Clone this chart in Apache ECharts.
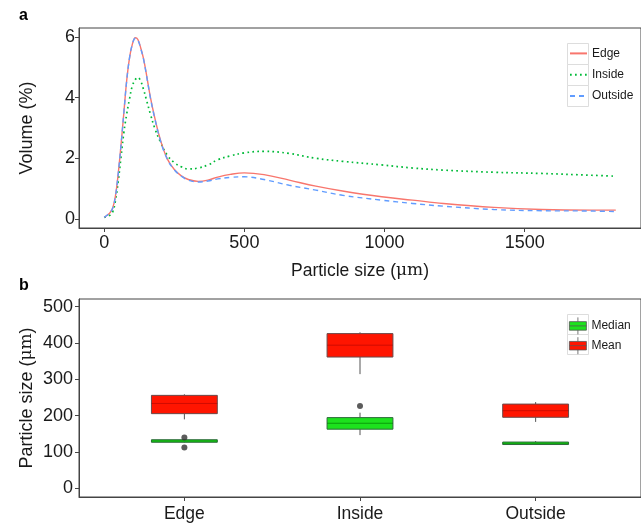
<!DOCTYPE html>
<html>
<head>
<meta charset="utf-8">
<script src="https://cdn.jsdelivr.net/npm/echarts@6/dist/echarts.min.js"></script>
<style>
  html, body { margin: 0; padding: 0; background: #fff; }
  #chart { width: 641px; height: 523px; }
</style>
</head>
<body>
<div id="chart"></div>
<script>
// Panel a: particle size distributions (volume %)
const sizes = [0, 10, 20, 30, 40, 50, 60, 70, 80, 90, 100, 111, 120, 130, 140, 150, 165, 180, 200, 225, 250, 275, 300, 335, 370, 405, 450, 500, 570, 660, 755, 850, 990, 1100, 1210, 1390, 1560, 1740, 1825];
const edgeVol = [0.05, 0.12, 0.2, 0.35, 0.75, 1.5, 2.45, 3.5, 4.55, 5.3, 5.75, 5.98, 5.92, 5.65, 5.3, 4.8, 4.0, 3.35, 2.62, 1.98, 1.63, 1.42, 1.3, 1.24, 1.28, 1.38, 1.47, 1.52, 1.46, 1.28, 1.08, 0.92, 0.73, 0.62, 0.51, 0.38, 0.31, 0.29, 0.29];
const insideVol = [0.05, 0.08, 0.12, 0.22, 0.6, 1.25, 2.05, 2.85, 3.45, 3.95, 4.38, 4.6, 4.67, 4.55, 4.28, 3.95, 3.45, 3.0, 2.55, 2.1, 1.86, 1.72, 1.65, 1.68, 1.78, 1.95, 2.08, 2.18, 2.23, 2.16, 2.0, 1.9, 1.78, 1.68, 1.61, 1.54, 1.5, 1.44, 1.41];
const outsideVol = [0.05, 0.12, 0.2, 0.35, 0.75, 1.5, 2.45, 3.5, 4.55, 5.3, 5.75, 5.96, 5.9, 5.63, 5.28, 4.78, 3.98, 3.33, 2.6, 1.97, 1.62, 1.41, 1.28, 1.22, 1.25, 1.32, 1.37, 1.39, 1.3, 1.11, 0.95, 0.78, 0.62, 0.51, 0.42, 0.31, 0.27, 0.26, 0.24];
const volTicks = [0, 2, 4, 6];
const sizeTicks = [0, 500, 1000, 1500];

// Panel b: box statistics per location [min, Q1, median, Q3, max]
const groups = ['Edge', 'Inside', 'Outside'];
const medianStats = [
  [126, 127, 130.5, 134, 135],
  [146.7, 163, 179.3, 194.8, 208.4],
  [119.6, 120.8, 124.2, 127.6, 130.4]
];
const meanStats = [
  [190, 205.7, 233.7, 256, 259],
  [314.4, 361.4, 394, 425.8, 429.4],
  [183, 195.7, 213.9, 232, 237.5]
];
// outliers of the median boxes: [group index, value]
const medianOutliers = [[0, 140], [0, 112.5], [1, 226.6]];
const psTicks = [0, 100, 200, 300, 400, 500];

const FONT = 'Liberation Sans, Arial, sans-serif';
const AXIS_COLOR = '#444';
const TEXT_COLOR = '#1a1a1a';
const BOX_WIDTH = 0.375; // in category units
const BOX_ICON = 'path://M0,5L20,5L20,15L0,15Z M0,10L20,10 M10,0L10,5 M10,15L10,20';

const pair = (xs, ys) => xs.map((x, i) => [x, ys[i]]);

function boxRenderer(fill, stroke, medianColor) {
  return function (params, api) {
    const x = api.value(0);
    const pMin = api.coord([x, api.value(1)]);
    const pQ1 = api.coord([x, api.value(2)]);
    const pMed = api.coord([x, api.value(3)]);
    const pQ3 = api.coord([x, api.value(4)]);
    const pMax = api.coord([x, api.value(5)]);
    const half = api.size([BOX_WIDTH, 0])[0] / 2;
    const whisker = { stroke: '#555', lineWidth: 1 };
    return {
      type: 'group',
      children: [
        { type: 'line', shape: { x1: pMax[0], y1: pMax[1], x2: pQ3[0], y2: pQ3[1] }, style: whisker },
        { type: 'line', shape: { x1: pQ1[0], y1: pQ1[1], x2: pMin[0], y2: pMin[1] }, style: whisker },
        { type: 'rect', shape: { x: pQ3[0] - half, y: pQ3[1], width: half * 2, height: pQ1[1] - pQ3[1] },
          style: { fill: fill, stroke: stroke, lineWidth: 1 } },
        { type: 'line', shape: { x1: pMed[0] - half, y1: pMed[1], x2: pMed[0] + half, y2: pMed[1] },
          style: { stroke: medianColor, lineWidth: 1 } }
      ]
    };
  };
}

const chart = echarts.init(document.getElementById('chart'), null, { renderer: 'canvas' });

const muRich = { mu: { fontFamily: 'DejaVu Serif, serif', fontSize: 17, color: TEXT_COLOR } };
const plain = v => String(v);

const option = {
  backgroundColor: '#fff',
  animation: false,
  textStyle: { fontFamily: FONT },
  grid: [
    { left: 79, right: -9, top: 28, height: 200, show: true, borderColor: AXIS_COLOR, borderWidth: 1 },
    { left: 79, right: -9, top: 299, height: 200, show: true, borderColor: AXIS_COLOR, borderWidth: 1 }
  ],
  xAxis: [
    {
      type: 'value', gridIndex: 0, min: -90, max: 1915,
      name: 'Particle size ({mu|μm})', nameLocation: 'middle', nameGap: 34, nameMoveOverlap: false,
      nameTextStyle: { fontSize: 17.5, color: TEXT_COLOR, rich: muRich },
      axisLine: { show: true, onZero: false, lineStyle: { color: AXIS_COLOR, width: 1 } },
      axisTick: { show: true, length: 4, lineStyle: { color: AXIS_COLOR }, customValues: sizeTicks },
      axisLabel: { fontSize: 18, color: TEXT_COLOR, margin: 6, customValues: sizeTicks, formatter: plain },
      splitLine: { show: false }
    },
    {
      type: 'value', gridIndex: 1, min: 0.4, max: 3.6,
      axisLine: { show: true, onZero: false, lineStyle: { color: AXIS_COLOR, width: 1 } },
      axisTick: { show: true, length: 4, lineStyle: { color: AXIS_COLOR }, customValues: [1, 2, 3] },
      axisLabel: { fontSize: 17.5, color: TEXT_COLOR, margin: 8, customValues: [1, 2, 3],
        formatter: v => groups[Math.round(v) - 1] || '' },
      splitLine: { show: false }
    }
  ],
  yAxis: [
    {
      type: 'value', gridIndex: 0, min: -0.3, max: 6.3,
      name: 'Volume (%)', nameLocation: 'middle', nameGap: 43, nameMoveOverlap: false,
      nameTextStyle: { fontSize: 18, color: TEXT_COLOR },
      axisLine: { show: true, onZero: false, lineStyle: { color: AXIS_COLOR, width: 1 } },
      axisTick: { show: true, length: 4, lineStyle: { color: AXIS_COLOR }, customValues: volTicks },
      axisLabel: { fontSize: 18, color: TEXT_COLOR, margin: 4, customValues: volTicks, formatter: plain },
      splitLine: { show: false }
    },
    {
      type: 'value', gridIndex: 1, min: -23.5, max: 521,
      name: 'Particle size ({mu|μm})', nameLocation: 'middle', nameGap: 43, nameMoveOverlap: false,
      nameTextStyle: { fontSize: 18, color: TEXT_COLOR, rich: muRich },
      axisLine: { show: true, onZero: false, lineStyle: { color: AXIS_COLOR, width: 1 } },
      axisTick: { show: true, length: 4, lineStyle: { color: AXIS_COLOR }, customValues: psTicks },
      axisLabel: { fontSize: 18, color: TEXT_COLOR, margin: 6, customValues: psTicks, formatter: plain },
      splitLine: { show: false }
    }
  ],
  legend: [
    {
      orient: 'vertical', left: 569, top: 44, padding: 0, itemWidth: 17, itemHeight: 21, itemGap: 2.5,
      itemStyle: { opacity: 0 },
      textStyle: { fontSize: 12, color: TEXT_COLOR },
      data: ['Edge', 'Inside', 'Outside']
    },
    {
      orient: 'vertical', left: 569, top: 317, padding: 0, itemWidth: 17, itemHeight: 20, itemGap: 2,
      textStyle: { fontSize: 12, color: TEXT_COLOR },
      data: [
        { name: 'Median', icon: BOX_ICON, itemStyle: { color: '#1DE21D', borderColor: '#555', borderWidth: 0.8 } },
        { name: 'Mean', icon: BOX_ICON, itemStyle: { color: '#FF1500', borderColor: '#555', borderWidth: 0.8 } }
      ]
    }
  ],
  graphic: [
    { type: 'text', left: 19, top: 8, style: { text: 'a', font: 'bold 16px Liberation Sans, Arial', fill: '#000' } },
    { type: 'text', left: 19, top: 278, style: { text: 'b', font: 'bold 16px Liberation Sans, Arial', fill: '#000' } },
    { type: 'rect', left: 567, top: 43, z: -1, shape: { width: 21, height: 21 }, style: { fill: '#fff', stroke: '#ddd' } },
    { type: 'rect', left: 567, top: 64, z: -1, shape: { width: 21, height: 21 }, style: { fill: '#fff', stroke: '#ddd' } },
    { type: 'rect', left: 567, top: 85, z: -1, shape: { width: 21, height: 21 }, style: { fill: '#fff', stroke: '#ddd' } },
    { type: 'rect', left: 567, top: 314, z: -1, shape: { width: 21, height: 20 }, style: { fill: '#fff', stroke: '#ddd' } },
    { type: 'rect', left: 567, top: 334, z: -1, shape: { width: 21, height: 20 }, style: { fill: '#fff', stroke: '#ddd' } }
  ],
  series: [
    {
      name: 'Edge', type: 'line', xAxisIndex: 0, yAxisIndex: 0, data: pair(sizes, edgeVol),
      smooth: 0.4, showSymbol: false, color: '#F8766D',
      lineStyle: { color: '#F8766D', width: 1.4 }, z: 3
    },
    {
      name: 'Inside', type: 'line', xAxisIndex: 0, yAxisIndex: 0, data: pair(sizes, insideVol),
      smooth: 0.4, showSymbol: false, color: '#00BA38',
      lineStyle: { color: '#00BA38', width: 1.7, type: [1.7, 3.3] }, z: 2
    },
    {
      name: 'Outside', type: 'line', xAxisIndex: 0, yAxisIndex: 0, data: pair(sizes, outsideVol),
      smooth: 0.4, showSymbol: false, color: '#619CFF',
      lineStyle: { color: '#619CFF', width: 1.4, type: [5, 4] }, z: 4
    },
    {
      name: 'Mean', type: 'custom', xAxisIndex: 1, yAxisIndex: 1, color: '#FF1500',
      renderItem: boxRenderer('#FF1500', '#6a4a4a', 'rgba(150,0,0,0.45)'),
      encode: { x: 0, y: [1, 2, 3, 4, 5] },
      data: meanStats.map((s, i) => [i + 1, ...s])
    },
    {
      name: 'Median', type: 'custom', xAxisIndex: 1, yAxisIndex: 1, color: '#1DE21D',
      renderItem: boxRenderer('#1DE21D', '#2f6a3c', 'rgba(0,110,0,0.6)'),
      encode: { x: 0, y: [1, 2, 3, 4, 5] },
      data: medianStats.map((s, i) => [i + 1, ...s])
    },
    {
      name: 'Median outliers', type: 'scatter', xAxisIndex: 1, yAxisIndex: 1,
      symbolSize: 6, itemStyle: { color: '#333' },
      data: medianOutliers.map(o => [o[0] + 1, o[1]])
    }
  ]
};

chart.setOption(option);
</script>
</body>
</html>
